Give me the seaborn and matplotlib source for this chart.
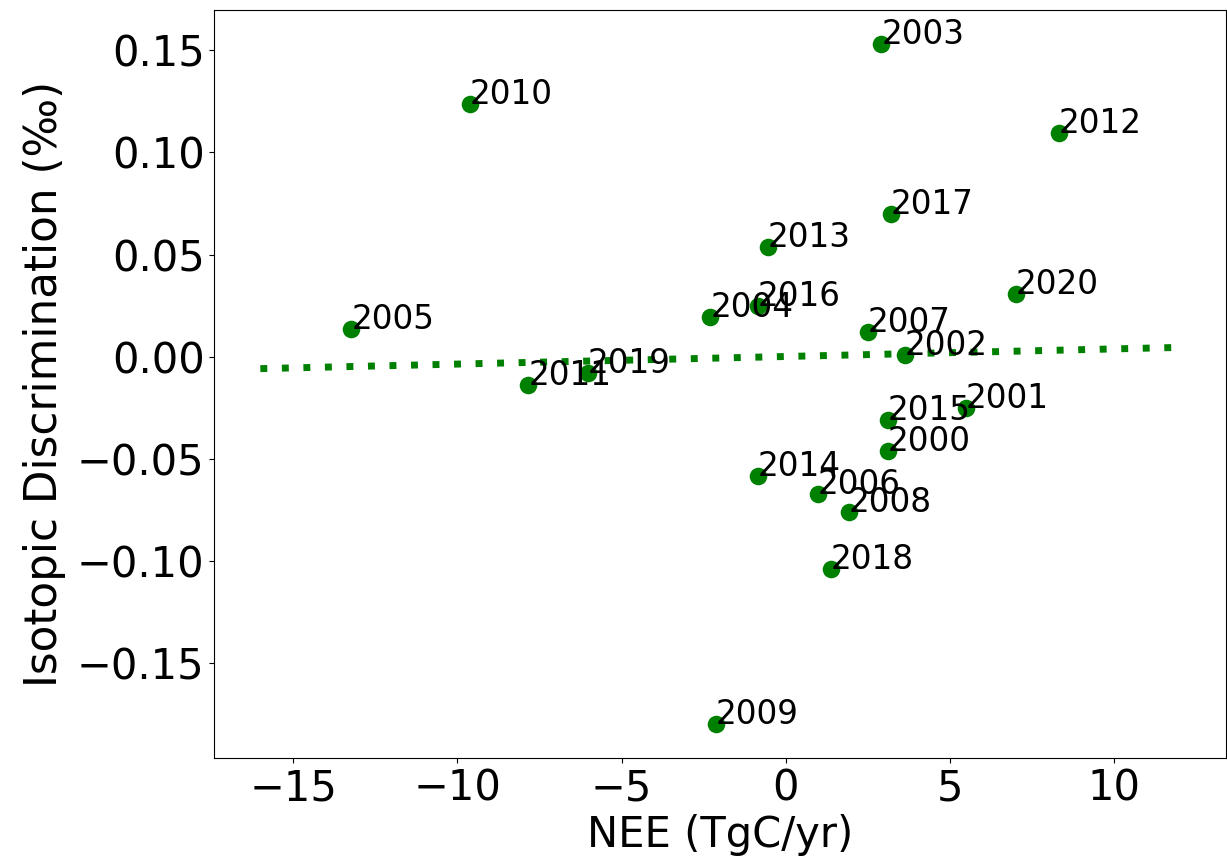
import numpy as np
import pandas as pd
import matplotlib
matplotlib.use("Agg")
import matplotlib.pyplot as plt
import seaborn as sns

# Annual values: net ecosystem exchange vs. isotopic discrimination anomaly
years = list(range(2000, 2021))
nee = [3.10, 5.47, 3.63, 2.90, -2.30, -13.23, 0.97, 2.49, 1.91, -2.13,
       -9.63, -7.84, 8.30, -0.55, -0.85, 3.10, -0.86, 3.20, 1.37, -6.03, 7.00]
disc = [-0.0463, -0.0250, 0.0008, 0.1531, 0.0194, 0.0134, -0.0672, 0.0123,
        -0.0760, -0.1798, 0.1237, -0.0136, 0.1097, 0.0539, -0.0585, -0.0311,
        0.0248, 0.0701, -0.1039, -0.0078, 0.0305]

# x-range over which the least-squares trend is drawn
fit_range = [-16, 12]

df = pd.DataFrame({"year": years, "nee": nee, "disc": disc})

plt.rcParams["font.family"] = ["DejaVu Sans"]
fig = plt.figure(figsize=(12.27, 8.61), dpi=100)
ax = fig.add_axes([0.1747, 0.1196, 0.8245, 0.8688])

sns.scatterplot(data=df, x="nee", y="disc", color="green", s=160,
                linewidth=0, ax=ax, zorder=3)

slope, intercept = np.polyfit(df["nee"], df["disc"], 1)
xs = np.linspace(fit_range[0], fit_range[1], 50)
ax.plot(xs, slope * xs + intercept, color="green", linewidth=5,
        linestyle=(0, (1, 2.1)), zorder=2)

for yr, xv, yv in zip(years, nee, disc):
    ax.text(xv, yv, str(yr), fontsize=23.5, color="black", zorder=4)

ax.set_xlabel("NEE (TgC/yr)", fontsize=30, labelpad=3)
ax.set_ylabel("Isotopic Discrimination (‰)", fontsize=31.5, labelpad=8)
ax.tick_params(axis="both", labelsize=30)
ax.set_xticks([-15, -10, -5, 0, 5, 10])
ax.set_yticks([-0.15, -0.10, -0.05, 0.00, 0.05, 0.10, 0.15])

fig.savefig("out.png", dpi=100)
